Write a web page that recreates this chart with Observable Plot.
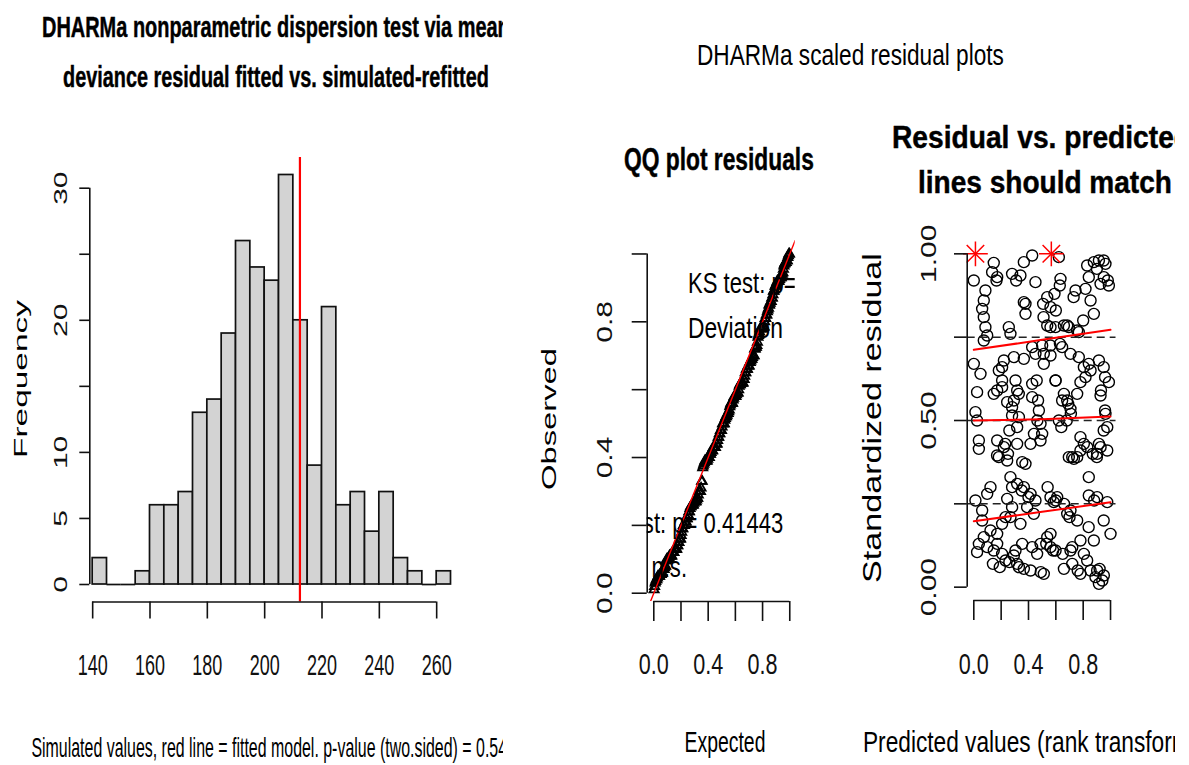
<!DOCTYPE html>
<html><head><meta charset="utf-8">
<script src="https://cdn.jsdelivr.net/npm/d3@7"></script>
<script src="https://cdn.jsdelivr.net/npm/@observablehq/plot@0.6"></script>
<style>
html,body{margin:0;padding:0;background:#fff;}
#page{position:relative;width:1189px;height:765px;overflow:hidden;background:#fff;font-family:"Liberation Sans",Arial,sans-serif;}
.layer{position:absolute;left:0;top:0;overflow:hidden;}
.layer svg{position:absolute;left:0;top:0;}
</style></head><body><div id="page"></div>
<script>
// ---------------- DATA ----------------
// Histogram of simulated dispersion statistic
const histBinStart = [140,145,150,155,160,165,170,175,180,185,190,195,200,205,210,215,220,225,230,235,240,245,250,255,260];
const histCount    = [2,0,0,1,6,6,7,13,14,19,26,24,23,31,20,9,21,6,7,4,7,2,1,0,1];
const histBinWidth = 5;
const observedStat = 212.3;
const histXTicks = [140,160,180,200,220,240,260];
const histYTicks = [0,5,10,15,20,25,30];
const histYLabeled = [0,5,10,20,30];

// Residual vs predicted (rank transformed) points: [predicted, scaled residual]
const residualPoints = [
 [0.00,0.92],[0.146,0.973],[0.166,0.92],[0.134,0.945],[0.085,0.89],[0.073,0.86],[0.061,0.835],[0.073,0.81],[0.085,0.78],[0.098,0.755],[0.073,0.74],
 [0.31,0.92],[0.341,0.935],[0.366,0.975],[0.427,0.995],[0.451,0.915],[0.366,0.855],[0.378,0.82],[0.507,0.85],[0.537,0.87],[0.561,0.84],[0.59,0.88],
 [0.629,0.905],[0.634,0.925],[0.622,0.99],[0.561,0.78],[0.598,0.78],[0.659,0.785],[0.695,0.78],[0.768,0.765],[0.744,0.89],[0.817,0.895],[0.841,0.93],
 [0.854,0.86],[0.878,0.82],[0.829,0.965],[0.878,0.975],[0.915,0.98],[0.963,0.97],[0.951,0.93],[0.988,0.905],[0.927,0.91],[0.256,0.78],[0.268,0.76],
 [0.171,0.93],[0.28,0.94],[0.378,0.85],[0.51,0.81],[0.6,0.83],[0.537,0.785],[0.683,0.785],[0.756,0.77],[0.8,0.8],[0.73,0.87],[0.9,0.955],[0.95,0.98],
 [0.98,0.92],[0.5,0.725],[0.56,0.725],[0.63,0.73],
 [0.00,0.67],[0.049,0.64],[0.024,0.585],[0.012,0.525],[0.024,0.50],[0.037,0.44],[0.037,0.415],[0.146,0.58],[0.171,0.59],[0.207,0.66],[0.207,0.62],
 [0.22,0.68],[0.293,0.69],[0.366,0.685],[0.305,0.62],[0.317,0.59],[0.293,0.56],[0.329,0.58],[0.427,0.61],[0.427,0.57],[0.476,0.53],[0.488,0.49],
 [0.5,0.46],[0.488,0.44],[0.427,0.72],[0.451,0.70],[0.512,0.70],[0.561,0.695],[0.512,0.67],[0.598,0.62],[0.646,0.72],[0.707,0.70],[0.768,0.69],
 [0.805,0.66],[0.854,0.65],[0.817,0.63],[0.78,0.615],[0.841,0.67],[0.915,0.68],[0.659,0.58],[0.683,0.56],[0.707,0.535],[0.622,0.50],[0.646,0.56],
 [0.756,0.58],[0.988,0.615],[0.927,0.575],[0.963,0.52],[0.976,0.48],[0.171,0.44],[0.22,0.42],[0.183,0.39],[0.244,0.38],[0.317,0.43],[0.415,0.43],
 [0.354,0.375],[0.378,0.37],[0.78,0.45],[0.805,0.43],[0.78,0.41],[0.915,0.43],[0.902,0.40],[0.927,0.42],[0.976,0.41],[0.695,0.39],[0.732,0.385],[0.841,0.33],
 [0.183,0.65],[0.207,0.6],[0.244,0.555],[0.28,0.54],[0.28,0.515],[0.33,0.51],[0.317,0.48],[0.26,0.47],[0.23,0.43],[0.25,0.40],[0.17,0.395],[0.46,0.62],
 [0.47,0.56],[0.465,0.5],[0.44,0.46],[0.598,0.62],[0.69,0.55],[0.71,0.52],[0.68,0.5],[0.64,0.48],[0.95,0.66],[0.96,0.63],[0.93,0.59],[0.96,0.53],
 [0.95,0.47],[0.72,0.39],[0.756,0.39],[0.83,0.42],[0.87,0.4],[0.9,0.39],
 [0.012,0.26],[0.098,0.28],[0.122,0.30],[0.061,0.23],[0.268,0.33],[0.317,0.31],[0.366,0.30],[0.415,0.28],[0.451,0.26],[0.39,0.24],[0.439,0.22],
 [0.561,0.27],[0.585,0.255],[0.61,0.27],[0.707,0.23],[0.756,0.20],[0.683,0.22],[0.841,0.275],[0.902,0.27],[0.976,0.255],[0.244,0.265],[0.28,0.24],
 [0.341,0.19],[0.268,0.21],[0.061,0.20],[0.122,0.17],[0.073,0.15],[0.037,0.13],[0.098,0.12],[0.146,0.11],[0.171,0.13],[0.024,0.105],[0.207,0.10],
 [0.232,0.08],[0.293,0.095],[0.305,0.11],[0.354,0.13],[0.317,0.07],[0.366,0.055],[0.415,0.05],[0.512,0.04],[0.427,0.12],[0.488,0.13],[0.537,0.15],
 [0.561,0.16],[0.561,0.12],[0.598,0.11],[0.463,0.10],[0.659,0.055],[0.707,0.11],[0.72,0.12],[0.78,0.14],[0.805,0.10],[0.829,0.08],[0.878,0.14],
 [0.78,0.04],[0.854,0.05],[0.89,0.03],[0.915,0.01],[0.951,0.035],[0.902,0.05],[1.0,0.16],[0.171,0.16],[0.207,0.19],[0.232,0.21],
 [0.28,0.3],[0.35,0.29],[0.4,0.27],[0.54,0.3],[0.6,0.26],[0.66,0.25],[0.70,0.21],[0.14,0.07],[0.19,0.06],[0.26,0.075],[0.33,0.06],[0.49,0.045],
 [0.53,0.13],[0.58,0.11],[0.65,0.1],[0.72,0.07],[0.76,0.05],[0.94,0.02],[0.92,0.055],[0.88,0.26],[0.95,0.2],[0.84,0.18]
];
// Outliers (red stars at y = 1)
const outlierPoints = [[0.012,1.0],[0.567,1.0]];
// Quantile regression lines
const quantileLevels = [0.25,0.5,0.75];
const quantileLineX = [0,0.5,1];
const quantileLineY = {0.25:[0.198,0.226,0.255], 0.5:[0.500,0.504,0.512], 0.75:[0.712,0.742,0.772]};
const ksPValue = 0.41443;
const outlierPValue = 0.41443;
const unitTicks = [0,0.2,0.4,0.6,0.8,1];
const unitLabeled = [0,0.4,0.8];
const residYTicks = [0,0.25,0.5,0.75,1];
const residYLabeled = [0,0.5,1];

// ---------------- HELPERS ----------------
const FONT = "Liberation Sans, Arial, Helvetica, sans-serif";
const INK = "#111";
const page = document.getElementById("page");
function layer(w, h) {
  const d = document.createElement("div");
  d.className = "layer"; d.style.width = w + "px"; d.style.height = h + "px";
  page.appendChild(d); return d;
}
function squeezeTicks(svg, k) {
  svg.querySelectorAll('g[aria-label$="tick label"] text').forEach(t => {
    const tr = t.getAttribute("transform") || "";
    t.setAttribute("transform", tr + (tr.includes("rotate") ? ` scale(1,${k})` : ` scale(${k},1)`));
  });
}
const near = (arr, d) => arr.some(v => Math.abs(v - d) < 1e-9);
const baseStyle = {background: "transparent", fontFamily: FONT, color: INK, overflow: "visible"};

// ---------------- PANEL 1: HISTOGRAM ----------------
{
  const W = 503, H = 765;
  const bins = histBinStart.map((s, i) => ({x1: s, x2: s + histBinWidth, n: histCount[i]}));
  const pxPerUnitX = 2.8667, pxPerUnitY = 13.21;
  const xDom = [139, 269];
  const left = 89.3, bottom = 601.5, top = 157;
  const yDom = [-(bottom - 584) / pxPerUnitY, (584 - top) / pxPerUnitY];
  const svg = Plot.plot({
    width: W, height: H,
    marginLeft: left, marginRight: W - (left + (xDom[1]-xDom[0]) * pxPerUnitX), marginTop: top, marginBottom: H - bottom,
    style: baseStyle,
    x: {domain: xDom, range: [left, left + (xDom[1]-xDom[0]) * pxPerUnitX], label: null},
    y: {domain: yDom, range: [bottom, top], label: null},
    marks: [
      Plot.rect(bins.filter(d => d.n > 0), {x1: "x1", x2: "x2", y1: () => 0, y2: "n", fill: "#d3d3d3", stroke: INK, strokeWidth: 1.7}),
      Plot.ruleY(bins.filter(d => d.n === 0), {x1: "x1", x2: "x2", y: () => 0, stroke: INK, strokeWidth: 1.7}),
      Plot.ruleX([observedStat], {stroke: "#ff0000", strokeWidth: 2.2}),
      Plot.ruleX([xDom[0]], {y1: histYTicks[0], y2: histYTicks[histYTicks.length-1], stroke: INK, strokeWidth: 1.6}),
      Plot.ruleY([yDom[0]], {x1: histXTicks[0], x2: histXTicks[histXTicks.length-1], stroke: INK, strokeWidth: 1.6}),
      Plot.axisX(histXTicks, {tickSize: 17, tickPadding: 34.6, fontSize: 30, strokeWidth: 1.6, label: null}),
      Plot.axisY(histYTicks, {tickSize: 10, tickPadding: 12.6, tickRotate: -90, fontSize: 30, strokeWidth: 1.6, label: null,
        tickFormat: d => near(histYLabeled, d) ? String(d) : ""})
    ]
  });
  squeezeTicks(svg, 0.6);
  layer(W, H).appendChild(svg);
}

// ---------------- PANEL 2: QQ PLOT ----------------
const RW = 1175;
{
  const H = 765;
  const n = residualPoints.length + outlierPoints.length;
  const observed = residualPoints.map(d => d[1]).concat(outlierPoints.map(d => d[1])).sort((a, b) => a - b);
  const qq = observed.map((o, i) => ({expected: (i + 0.5) / n, observed: o}));
  const xDom = [-0.0485, 1.04], yDom = [-0.0244, 1.04];
  const left = 646.7, right = 794.7, top = 239.9, bottom = 601;
  const lineEnds = [xDom[0] - 0.1, xDom[1] + 0.1].map(v => ({v}));
  const svg = Plot.plot({
    width: RW, height: H,
    marginLeft: left, marginRight: RW - right, marginTop: top, marginBottom: H - bottom,
    style: baseStyle,
    x: {domain: xDom, range: [left, right], label: null},
    y: {domain: yDom, range: [bottom, top], label: null},
    marks: [
      Plot.dot(qq, {x: "expected", y: "observed", symbol: "triangle", r: 3.4, stroke: "#000", strokeWidth: 1.8, fill: "none"}),
      Plot.line(lineEnds, {x: "v", y: "v", stroke: "#ff0000", strokeWidth: 1.4, clip: true}),
      Plot.ruleX([xDom[0]], {y1: unitTicks[0], y2: unitTicks[unitTicks.length-1], stroke: INK, strokeWidth: 1.6}),
      Plot.ruleY([yDom[0]], {x1: unitTicks[0], x2: unitTicks[unitTicks.length-1], stroke: INK, strokeWidth: 1.6}),
      Plot.axisX(unitTicks, {tickSize: 20, tickPadding: 31, fontSize: 30, strokeWidth: 1.6, label: null,
        tickFormat: d => near(unitLabeled, d) ? d.toFixed(1) : ""}),
      Plot.axisY(unitTicks, {tickSize: 15, tickPadding: 20, tickRotate: -90, fontSize: 30, strokeWidth: 1.6, label: null,
        tickFormat: d => near(unitLabeled, d) ? d.toFixed(1) : ""})
    ]
  });
  squeezeTicks(svg, 0.72);
  layer(RW, H).appendChild(svg);
}

// ---------------- PANEL 3: RESIDUAL VS PREDICTED ----------------
{
  const H = 765;
  const pts = residualPoints.map(d => ({x: d[0], y: d[1]}));
  const outl = outlierPoints.map(d => ({x: d[0], y: d[1]}));
  const qlines = quantileLevels.flatMap(q => quantileLineX.map((x, i) => ({q, x, y: quantileLineY[q][i]})));
  const xDom = [-0.0483, 1.04], yDom = [-0.04, 1.04];
  const left = 966.7, right = 1115.5, top = 240, bottom = 600;
  const svg = Plot.plot({
    width: RW, height: H,
    marginLeft: left, marginRight: RW - right, marginTop: top, marginBottom: H - bottom,
    style: baseStyle,
    x: {domain: xDom, range: [left, right], label: null},
    y: {domain: yDom, range: [bottom, top], label: null},
    marks: [
      Plot.dot(pts, {x: "x", y: "y", r: 5.5, stroke: "#000", strokeWidth: 1.4, fill: "none"}),
      Plot.dot(outl, {x: "x", y: "y", symbol: "plus", r: 8, stroke: "#ff0000", strokeWidth: 1.5}),
      Plot.dot(outl, {x: "x", y: "y", symbol: "times", r: 8, stroke: "#ff0000", strokeWidth: 1.5}),
      Plot.ruleY(quantileLevels, {stroke: "#222", strokeWidth: 1.5, strokeDasharray: "8,5"}),
      Plot.line(qlines, {x: "x", y: "y", z: "q", stroke: "#ff0000", strokeWidth: 2}),
      Plot.ruleX([xDom[0]], {y1: residYTicks[0], y2: residYTicks[residYTicks.length-1], stroke: INK, strokeWidth: 1.6}),
      Plot.ruleY([yDom[0]], {x1: unitTicks[0], x2: unitTicks[unitTicks.length-1], stroke: INK, strokeWidth: 1.6}),
      Plot.axisX(unitTicks, {tickSize: 20, tickPadding: 32, fontSize: 30, strokeWidth: 1.6, label: null,
        tickFormat: d => near(unitLabeled, d) ? d.toFixed(1) : ""}),
      Plot.axisY(residYTicks, {tickSize: 12.7, tickPadding: 19, tickRotate: -90, fontSize: 30, strokeWidth: 1.6, label: null,
        tickFormat: d => near(residYLabeled, d) ? d.toFixed(2) : ""})
    ]
  });
  squeezeTicks(svg, 0.72);
  layer(RW, H).appendChild(svg);
}

// ---------------- TEXT OVERLAY (titles, axis titles, legends) ----------------
{
  const ov = d3.select(page).append("svg")
    .attr("width", 1189).attr("height", 765)
    .style("position", "absolute").style("left", 0).style("top", 0)
    .style("font-family", FONT);
  const defs = ov.append("defs");
  defs.append("clipPath").attr("id", "clipL").append("rect").attr("x", 0).attr("y", 0).attr("width", 503).attr("height", 765);
  defs.append("clipPath").attr("id", "clipR").append("rect").attr("x", 503).attr("y", 0).attr("width", RW - 503).attr("height", 765);
  defs.append("clipPath").attr("id", "clipQQ").append("rect").attr("x", 646.7).attr("y", 239.9).attr("width", 148).attr("height", 361.1);
  const gL = ov.append("g").attr("clip-path", "url(#clipL)");
  const gR = ov.append("g").attr("clip-path", "url(#clipR)");
  const gQ = ov.append("g").attr("clip-path", "url(#clipQQ)");
  function txt(g, o) {
    const t = g.append("text").attr("font-size", o.size).attr("font-weight", o.weight || "normal")
      .attr("text-anchor", o.anchor || "start").attr("fill", "#000").text(o.text);
    if (o.weight === "bold") t.attr("stroke", "#000").attr("stroke-width", 0.45);
    let k = o.k || 1;
    if (o.fitWidth) {
      const n = o.fitChars || o.text.length;
      k = o.fitWidth / t.node().getSubStringLength(0, n);
    }
    t.attr("transform", `translate(${o.x},${o.y})` + (o.rotate ? ` rotate(${o.rotate})` : "") + ` scale(${k},1)`);
  }
  // left panel
  txt(gL, {text: "DHARMa nonparametric dispersion test via mean", x: 42, y: 37, size: 29, weight: "bold", fitChars: 44, fitWidth: 456});
  txt(gL, {text: "deviance residual fitted vs. simulated-refitted", x: 63, y: 87, size: 29, weight: "bold", fitWidth: 426});
  txt(gL, {text: "Frequency", x: 27, y: 379, size: 19, anchor: "middle", rotate: -90, fitWidth: 158});
  txt(gL, {text: "Simulated values, red line = fitted model. p-value (two.sided) = 0.54", x: 31.4, y: 757, size: 27, fitWidth: 476});
  // right panels
  txt(gR, {text: "DHARMa scaled residual plots", x: 697, y: 65, size: 30, fitWidth: 307});
  txt(gR, {text: "QQ plot residuals", x: 624, y: 170, size: 31, weight: "bold", fitWidth: 190});
  txt(gR, {text: "Residual vs. predicted", x: 892, y: 148, size: 31, weight: "bold", fitChars: 21, fitWidth: 282});
  txt(gR, {text: "lines should match", x: 918, y: 193, size: 31, weight: "bold", fitWidth: 254});
  txt(gR, {text: "Observed", x: 556, y: 419, size: 21, anchor: "middle", rotate: -90, fitWidth: 142});
  txt(gR, {text: "Standardized residual", x: 881, y: 418, size: 25, anchor: "middle", rotate: -90, fitWidth: 330});
  txt(gR, {text: "Expected", x: 684.5, y: 752, size: 30, fitWidth: 81});
  txt(gR, {text: "Predicted values (rank transformed)", x: 863, y: 752, size: 30, fitChars: 31, fitWidth: 309});
  // QQ legends (clipped to the plot region)
  txt(gQ, {text: `KS test: p= ${ksPValue}`, x: 688, y: 293, size: 30, k: 0.736});
  txt(gQ, {text: "Deviation\u00a0\u00a0\u00a0n.s.", x: 688, y: 338, size: 30, fitChars: 9, fitWidth: 95});
  txt(gQ, {text: `Outlier test: p= ${outlierPValue}`, x: 553.3, y: 533, size: 30, k: 0.736});
  txt(gQ, {text: "Deviation n.s.", x: 553.3, y: 577, size: 30, k: 0.736});
}
</script></body></html>
